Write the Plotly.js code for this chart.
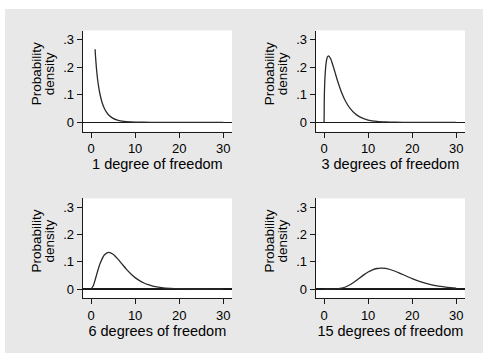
<!DOCTYPE html>
<html>
<head>
<meta charset="utf-8">
<script src="https://cdn.plot.ly/plotly-3.0.1.min.js"></script>
<style>html,body{margin:0;padding:0;background:#fff;}#chart{width:483px;height:353px;}</style>
</head>
<body>
<div id="chart"></div>
<script>
// Values (chi-square densities)
const x1 = [0.92, 1, 1.25, 1.5, 1.75, 2, 2.5, 3, 3.5, 4, 5, 6, 7, 8, 10, 12, 15, 20, 25, 30];
const y1 = [0.266, 0.242, 0.191, 0.154, 0.126, 0.104, 0.072, 0.051, 0.037, 0.027, 0.0146, 0.0081, 0.0046, 0.0026, 0.0008, 0.0003, 0.0001, 0, 0, 0];

const x3 = [0, 0.05, 0.1, 0.25, 0.5, 0.75, 1, 1.5, 2, 2.5, 3, 4, 5, 6, 7, 8, 9, 10, 12, 14, 16, 20, 25, 30];
const y3 = [0, 0.087, 0.12, 0.176, 0.22, 0.2375, 0.242, 0.231, 0.2076, 0.1807, 0.1542, 0.108, 0.0732, 0.0487, 0.0319, 0.0207, 0.0133, 0.0085, 0.0034, 0.0014, 0.0005, 0.0001, 0, 0];

const x6 = [0, 0.5, 1, 1.5, 2, 3, 4, 5, 6, 7, 8, 9, 10, 11, 12, 13, 14, 16, 18, 20, 25, 30];
const y6 = [0, 0.0122, 0.0379, 0.0664, 0.092, 0.1255, 0.1353, 0.1283, 0.112, 0.0925, 0.0733, 0.0562, 0.0421, 0.0309, 0.0223, 0.0159, 0.0112, 0.0054, 0.0025, 0.0011, 0.00015, 0];

const x15 = [0, 2, 3, 4, 5, 6, 7, 8, 9, 10, 11, 12, 13, 14, 15, 16, 17, 18, 19, 20, 22, 24, 26, 28, 30];
const y15 = [0, 0.0001, 0.0008, 0.0033, 0.0085, 0.0168, 0.0277, 0.0401, 0.0523, 0.0629, 0.0709, 0.0757, 0.0773, 0.0759, 0.072, 0.0665, 0.0598, 0.0526, 0.0453, 0.0384, 0.0262, 0.017, 0.0105, 0.0063, 0.0036];

const panelTitles = ["1 degree of freedom", "3 degrees of freedom", "6 degrees of freedom", "15 degrees of freedom"];
const yTickVals = [0, 0.1, 0.2, 0.3];
const yTickText = ["0", ".1", ".2", ".3"];
const xTickVals = [0, 10, 20, 30];
const xTickText = ["0", "10", "20", "30"];
const yTitleLines = ["Probability", "density"];

const W = 483, H = 353;
const FONT = "Liberation Sans, Arial, Helvetica, sans-serif";
const INK = "#1a1a1a";
const BG = "#e8e8e8";

// pixel geometry of panels [left, right], [top, bottom]
const cols = [[82.7, 232], [315.7, 465]];
const rows = [[30.5, 131.7], [198.3, 298.3]];

const xsets = [x1, x3, x6, x15];
const ysets = [y1, y3, y6, y15];

const data = [];
const layout = {
  width: W, height: H,
  margin: {l: 0, r: 0, t: 0, b: 0, pad: 0},
  paper_bgcolor: BG,
  plot_bgcolor: "#ffffff",
  showlegend: false,
  font: {family: FONT, size: 13, color: "#000"},
  shapes: [
    {type: "rect", xref: "paper", yref: "paper", x0: 0, x1: 1, y0: 1 - 9 / H, y1: 1.01, fillcolor: "#ffffff", line: {width: 0}, layer: "above"},
    {type: "rect", xref: "paper", yref: "paper", x0: -0.01, x1: 5 / W, y0: -0.01, y1: 1.01, fillcolor: "#ffffff", line: {width: 0}, layer: "above"}
  ],
  annotations: []
};

for (let i = 0; i < 4; i++) {
  const c = cols[i % 2], r = rows[Math.floor(i / 2)];
  const xn = i === 0 ? "x" : "x" + (i + 1);
  const yn = i === 0 ? "y" : "y" + (i + 1);
  const xk = i === 0 ? "xaxis" : "xaxis" + (i + 1);
  const yk = i === 0 ? "yaxis" : "yaxis" + (i + 1);
  data.push({
    x: xsets[i], y: ysets[i], xaxis: xn, yaxis: yn,
    type: "scatter", mode: "lines",
    line: {color: "#2a2a2a", width: 1.3, shape: "spline", smoothing: 0.6},
    hoverinfo: "skip"
  });
  layout[xk] = {
    domain: [c[0] / W, c[1] / W],
    anchor: yn,
    range: [-1.9, 32],
    showgrid: false, zeroline: false,
    showline: true, linecolor: INK, linewidth: 1,
    ticks: "outside", ticklen: 5, tickwidth: 1, tickcolor: INK,
    tickvals: xTickVals, ticktext: xTickText,
    tickfont: {family: FONT, size: 13, color: "#000"},
    title: {text: panelTitles[i], font: {family: FONT, size: 14.5, color: "#000"}, standoff: 0},
    fixedrange: true
  };
  layout[yk] = {
    domain: [1 - r[1] / H, 1 - r[0] / H],
    anchor: xn,
    range: [-0.034, 0.334],
    showgrid: false,
    zeroline: true, zerolinecolor: INK, zerolinewidth: 1.2,
    showline: true, linecolor: INK, linewidth: 1,
    ticks: "outside", ticklen: 5, tickwidth: 1, tickcolor: INK,
    tickvals: yTickVals, ticktext: yTickText,
    tickfont: {family: FONT, size: 13, color: "#000"},
    fixedrange: true
  };
  const cy = 1 - (r[0] + (r[1] - r[0]) * 0.43) / H;
  const lx = [c[0] - 46.5, c[0] - 33.5];
  for (let k = 0; k < 2; k++) {
    layout.annotations.push({
      text: yTitleLines[k], xref: "paper", yref: "paper",
      x: lx[k] / W, y: cy, xanchor: "center", yanchor: "middle",
      textangle: -90, showarrow: false,
      font: {family: FONT, size: 13.5, color: "#000"}
    });
  }
}

Plotly.newPlot("chart", data, layout, {displayModeBar: false, staticPlot: true});
</script>
</body>
</html>
